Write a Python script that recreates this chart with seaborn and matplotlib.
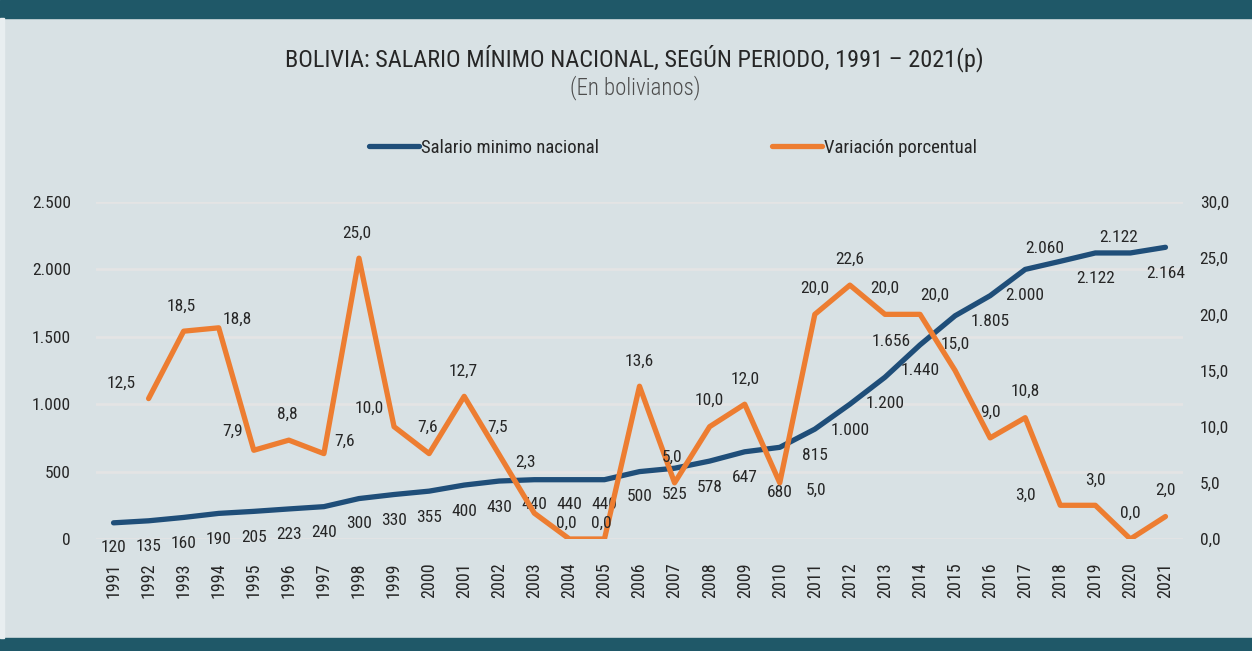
import numpy as np
import pandas as pd
import matplotlib
matplotlib.use("Agg")
import matplotlib.pyplot as plt
from matplotlib.patches import Rectangle
from matplotlib.lines import Line2D
import seaborn as sns

years = list(range(1991, 2022))
salario = [120, 135, 160, 190, 205, 223, 240, 300, 330, 355, 400, 430, 440, 440, 440,
           500, 525, 578, 647, 680, 815, 1000, 1200, 1440, 1656, 1805, 2000, 2060, 2122,
           2122, 2164]
variacion = [np.nan, 12.5, 18.5, 18.8, 7.9, 8.8, 7.6, 25.0, 10.0, 7.6, 12.7, 7.5, 2.3,
             0.0, 0.0, 13.6, 5.0, 10.0, 12.0, 5.0, 20.0, 22.6, 20.0, 20.0, 15.0, 9.0,
             10.8, 3.0, 3.0, 0.0, 2.0]

# label offsets in pixels (dx, dy up)
sal_off = [(0, -25), (0, -26), (0, -26), (0, -26), (0, -26), (0, -26), (0, -26),
           (0, -25), (0, -26), (0, -26), (0, -26), (0, -26), (0, -25), (0, -25),
           (0, -25), (0, -25), (0, -26), (0, -26), (0, -26), (0, -45), (0, -26),
           (0, -26), (0, -26), (0, -26), (-64, -26), (0, -26), (0, -26), (-16, 13),
           (0, -26), (-12, 15), (0, -26)]
var_off = [None, (-27, 15), (-2, 25), (19, 8), (-21, 19), (-2, 26), (21, 12), (-2, 25),
           (-25, 18), (-2, 26), (-1, 25), (-2, 27), (-9, 51), (-3, 16), (-3, 16),
           (0, 25), (-3, 26), (0, 26), (0, 25), (36, -7), (0, 26), (0, 26), (0, 26),
           (15, 19), (0, 26), (0, 26), (0, 26), (-35, 10), (0, 25), (0, 26), (0, 26)]

df = pd.DataFrame({"anio": years, "salario": salario, "variacion": variacion})

bg = "#d8e1e4"
blue = "#1f4e79"
orange = "#ed7d31"
txt = "#262626"

plt.rcParams["font.family"] = ["Roboto Condensed", "Liberation Sans Narrow", "DejaVu Sans"]

fig = plt.figure(figsize=(12.52, 6.51), dpi=100, facecolor=bg)
fig.patches.append(Rectangle((0, 1 - 18 / 651), 1, 18 / 651, transform=fig.transFigure,
                             color="#1f5868", zorder=0))
fig.patches.append(Rectangle((0, 0), 1, 13 / 651, transform=fig.transFigure,
                             color="#1f5868", zorder=0))
fig.patches.append(Rectangle((0, 13 / 651), 4 / 1252, 1 - 31 / 651, transform=fig.transFigure,
                             color="#e8eef0", zorder=0))

ax = fig.add_axes([96 / 1252, 1 - 539 / 651, 1087 / 1252, 337 / 651])
ax.set_facecolor("none")
ax2 = ax.twinx()

sns.lineplot(data=df, x="anio", y="salario", ax=ax, color=blue, linewidth=3.8,
             solid_capstyle="round")
sns.lineplot(data=df.dropna(), x="anio", y="variacion", ax=ax2, color=orange,
             linewidth=3.8, solid_capstyle="round")

ax.set_xlim(1990.5, 2021.5)
ax.set_ylim(0, 2500)
ax2.set_ylim(0, 30)
ax.set_yticks(range(0, 2501, 500))
ax.set_yticklabels([f"{v:,}".replace(",", ".") for v in range(0, 2501, 500)])
ax2.set_yticks(np.arange(0, 31, 5))
ax2.set_yticklabels([f"{v:.1f}".replace(".", ",") for v in np.arange(0, 31, 5)])
ax.set_xticks(years)
ax.set_xticklabels([str(y) for y in years], rotation=90)
ax.grid(axis="y", color="#e4e4e4", linewidth=2)
ax.set_axisbelow(True)
for a in (ax, ax2):
    for s in a.spines.values():
        s.set_visible(False)
    a.set_xlabel("")
    a.set_ylabel("")
ax.tick_params(axis="y", length=0, pad=18, labelsize=12.5, labelcolor=txt)
ax.tick_params(axis="x", length=0, pad=17, labelsize=13, labelcolor=txt)
ax2.tick_params(axis="y", length=0, pad=12, labelsize=12.5, labelcolor=txt)

for x, v, (dx, dy) in zip(years, salario, sal_off):
    ax.annotate(f"{v:,}".replace(",", "."), (x, v), xytext=(dx * 0.72, dy * 0.72),
                textcoords="offset points", ha="center", va="center", fontsize=12.5,
                color=txt, annotation_clip=False)
for x, v, off in zip(years, variacion, var_off):
    if off is None or np.isnan(v):
        continue
    ax2.annotate(f"{v:.1f}".replace(".", ","), (x, v), xytext=(off[0] * 0.72, off[1] * 0.72),
                 textcoords="offset points", ha="center", va="center", fontsize=12.5,
                 color=txt, annotation_clip=False)

fig.text(0.507, 1 - 58 / 651, "BOLIVIA: SALARIO MÍNIMO NACIONAL, SEGÚN PERIODO, 1991 – 2021(p)",
         ha="center", va="center", fontsize=17.5, color=txt)
fig.text(0.507, 1 - 88 / 651, "(En bolivianos)", ha="center", va="center", fontsize=16.5,
         color="#4d4d4d", fontweight="light")

handles = [Line2D([], [], color=blue, linewidth=3.8, solid_capstyle="round"),
           Line2D([], [], color=orange, linewidth=3.8, solid_capstyle="round")]
fig.legend(handles, ["Salario minimo nacional", "Variación porcentual"], loc="center",
           bbox_to_anchor=(0.5375, 1 - 148 / 651), ncol=2, frameon=False, fontsize=13.5,
           handlelength=2.7, handletextpad=0.1, columnspacing=9.2, labelcolor=txt)

fig.savefig("out.png", dpi=100, facecolor=bg)
